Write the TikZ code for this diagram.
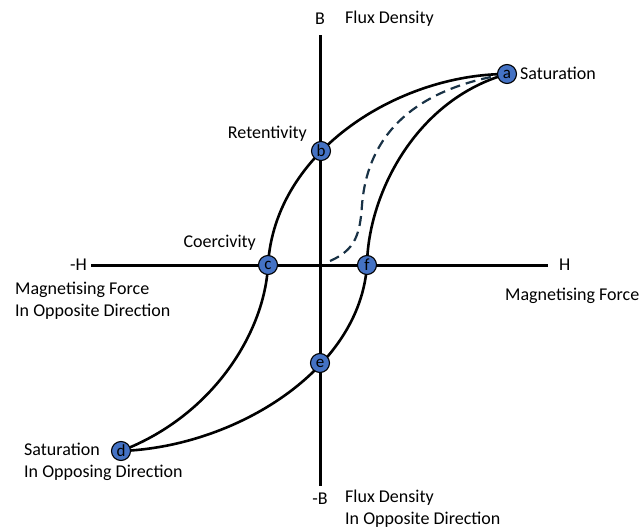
\documentclass[tikz,border=0pt]{standalone}
\usepackage{fontspec}
\setmainfont{Carlito}
\begin{document}
\begin{tikzpicture}[x=1pt,y=-1pt,
  axis/.style={line width=3pt},
  curve/.style={line width=2.6pt},
  virgin/.style={line width=2.2pt,draw={rgb,255:red,25;green,50;blue,70},dash pattern=on 10pt off 6pt},
  pt/.style={circle,draw=black,line width=1.1pt,fill={rgb,255:red,68;green,114;blue,196},minimum size=19pt,inner sep=0pt,font=\fontsize{17}{17}\selectfont},
  lbl/.style={font=\fontsize{18}{21.5}\selectfont,inner sep=0pt,align=left}]
\useasboundingbox (0,0) rectangle (640,530);
% axes
\coordinate (vtop) at (320,35);
\coordinate (vbot) at (320,486);
\coordinate (hl) at (91,265);
\coordinate (hr) at (548,265);
\draw[axis] (vtop) -- (vbot);
\draw[axis] (hl) -- (hr);
% loop points
\coordinate (pa) at (507,74);
\coordinate (pb) at (321,151);
\coordinate (pc) at (268,265);
\coordinate (pd) at (121,451);
\coordinate (pe) at (320,363);
\coordinate (pf) at (367,265);
\coordinate (p0) at (330,261);
\coordinate (pk) at (362,205);
% curves
\draw[curve] (pd) .. controls (215,415) and (265,330) .. (pc)
             .. controls (275,150) and (400,74) .. (pa);
\draw[curve] (pa) .. controls (415,100) and (368,195) .. (pf)
             .. controls (360,370) and (235,447) .. (pd);
\draw[virgin] (p0) .. controls (355,250) and (360,235) .. (pk)
              .. controls (368,130) and (420,88) .. (pa);
% points
\node[pt] (a) at (pa) {a};
\node[pt] (b) at (pb) {b};
\node[pt] (c) at (pc) {c};
\node[pt] (d) at (pd) {d};
\node[pt] (e) at (pe) {e};
\node[pt] (f) at (pf) {f};
% labels
\node[lbl] (Bl) at (320,19) {B};
\node[lbl,anchor=west] (fluxtop) at (345,19) {Flux Density};
\node[lbl,anchor=west] (sat) at (520,73) {Saturation};
\node[lbl,anchor=east] (ret) at (307,134) {Retentivity};
\node[lbl,anchor=east] (coer) at (256,243) {Coercivity};
\node[lbl,anchor=east] (mH) at (87,265) {-H};
\node[lbl,anchor=west] (H) at (559,265) {H};
\node[lbl,anchor=north west] (mfl) at (15,282) {Magnetising Force\\In Opposite Direction};
\node[lbl,anchor=west] (mfr) at (505,296) {Magnetising Force};
\node[lbl,anchor=north west] (satd) at (24,443) {Saturation\\In Opposing Direction};
\node[lbl] (mB) at (320,499) {-B};
\node[lbl,anchor=north west] (fluxbot) at (345,490) {Flux Density\\In Opposite Direction};
\end{tikzpicture}
\end{document}
